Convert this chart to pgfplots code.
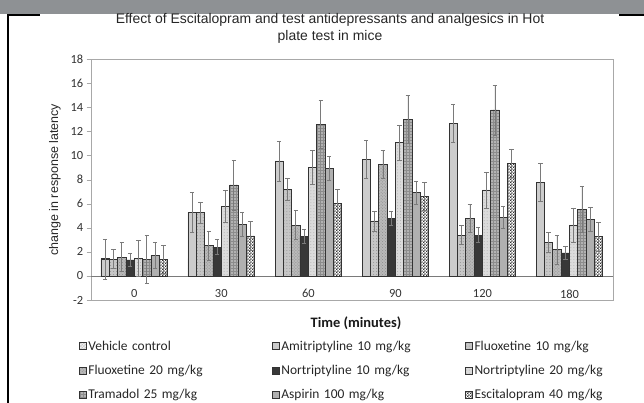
\documentclass[border=0pt]{standalone}
\usepackage{pgfplots}
\pgfplotsset{compat=1.18}
\usepackage{fontspec}
\setmainfont{Liberation Sans}
\newfontfamily\calibri{Carlito}
\usetikzlibrary{patterns}

\definecolor{banner}{HTML}{8E9194}
\definecolor{frame}{HTML}{A8A8A8}
\definecolor{ebar}{HTML}{7A7A7A}

% fine black/white checks for the escitalopram bars
\pgfdeclarepatternformonly{smallcheck}{\pgfpointorigin}{\pgfpoint{3.2bp}{3.2bp}}{\pgfpoint{3.2bp}{3.2bp}}{
  \pgfpathrectangle{\pgfpointorigin}{\pgfpoint{1.6bp}{1.6bp}}
  \pgfpathrectangle{\pgfpoint{1.6bp}{1.6bp}}{\pgfpoint{1.6bp}{1.6bp}}
  \pgfusepath{fill}}

\pgfplotsset{
  drugbar/.style={draw=black!80, line width=0.7bp},
}

\begin{document}
\begin{tikzpicture}
\path[use as bounding box] (0bp,0bp) rectangle (644bp,403bp);
\fill[banner] (0bp,388.5bp) rectangle (644bp,403bp);
\draw[black, line width=1.3bp] (8bp,0bp) -- (8bp,388bp) -- (40bp,388bp);
\draw[black, line width=1.3bp] (619bp,388bp) -- (644bp,388bp);

\node[align=center, font=\fontsize{14}{17}\selectfont, text=black!85] at (330bp,374.5bp)
  {Effect of Escitalopram and test antidepressants and analgesics in Hot\\plate test in mice};

\begin{axis}[
    at={(90.7bp,103bp)}, anchor=south west,
    scale only axis,
    width=522.3bp, height=240.7bp,
    ybar=0pt, bar width=8.33bp,
    xmin=-0.5, xmax=5.5,
    ymin=-2, ymax=18,
    xtick={0,1,2,3,4,5},
    xticklabels={0,30,60,90,120,180},
    ytick={-2,0,2,4,6,8,10,12,14,16,18},
    ytick pos=left,
    tick align=outside,
    major tick length=4bp,
    xtick style={draw=none},
    ytick style={frame},
    axis line style={frame},
    tick label style={font=\calibri\fontsize{12.5}{13}\selectfont, text=black!80},
    /pgf/number format/assume math mode=true,
    xticklabel style={yshift=18bp},
    extra y ticks={0},
    extra y tick labels={},
    extra y tick style={grid=major, major grid style={ebar, line width=0.8bp}},
    ylabel={change in response latency},
    ylabel style={at={(axis description cs:-0.0684,0.5)}, anchor=center, font=\fontsize{12.5}{13}\selectfont, text=black!85},
    xlabel={Time (minutes)},
    xlabel style={at={(axis description cs:0.508,-0.0956)}, anchor=center, font=\calibri\bfseries\fontsize{14.5}{15}\selectfont, text=black!90},
    error bars/y dir=both,
    error bars/y explicit,
    error bars/error bar style={ebar, line width=0.7bp},
    error bars/error mark options={rotate=90, mark size=2.2bp, ebar, line width=0.7bp},
    legend columns=3,
    legend cell align=left,
    legend style={draw=none, fill=none,
      at={(axis description cs:-0.029,-0.152)}, anchor=north west,
      font=\calibri\fontsize{13.5}{14}\selectfont,
      row sep=9.5bp,
      nodes={text width=182bp, align=left, inner xsep=1.5bp, text=black!85}},
    legend image code/.code={\draw[#1, draw=black!80, line width=0.6bp] (0bp,-3.5bp) rectangle (7.5bp,3.5bp);},
]
% Vehicle control
\addplot[drugbar, fill=gray!12, postaction={pattern=crosshatch, pattern color=gray!45}, forget plot]
  coordinates {(0,1.42) (1,1.44) (2,1.47) (3,1.52) (4,1.74) (5,1.74)};
\addlegendimage{fill=gray!12, postaction={pattern=crosshatch, pattern color=gray!45}}
\addlegendentry{Vehicle control}
% Amitriptyline 10
\addplot[drugbar, fill=gray!40] coordinates {
  (0,1.40) +- (0,1.65) (1,5.28) +- (0,1.66) (2,9.55) +- (0,1.66)
  (3,9.69) +- (0,1.60) (4,12.68) +- (0,1.58) (5,7.78) +- (0,1.58)};
\addlegendentry{Amitriptyline 10 mg/kg}
% Fluoxetine 10
\addplot[drugbar, fill=gray!45, postaction={pattern=dots, pattern color=gray!85}] coordinates {
  (0,1.40) +- (0,0.80) (1,5.26) +- (0,0.89) (2,7.20) +- (0,0.88)
  (3,4.57) +- (0,0.83) (4,3.40) +- (0,0.80) (5,2.80) +- (0,0.85)};
\addlegendentry{Fluoxetine 10 mg/kg}
% Fluoxetine 20
\addplot[drugbar, fill=gray!55, postaction={pattern=crosshatch dots, pattern color=gray!90}] coordinates {
  (0,1.55) +- (0,1.20) (1,2.50) +- (0,1.17) (2,4.21) +- (0,1.20)
  (3,9.30) +- (0,1.16) (4,4.79) +- (0,1.16) (5,2.19) +- (0,1.19)};
\addlegendentry{Fluoxetine 20 mg/kg}
% Nortriptyline 10
\addplot[drugbar, fill=black!78] coordinates {
  (0,1.33) +- (0,0.57) (1,2.40) +- (0,0.62) (2,3.30) +- (0,0.58)
  (3,4.79) +- (0,0.60) (4,3.40) +- (0,0.64) (5,1.91) +- (0,0.53)};
\addlegendentry{Nortriptyline 10 mg/kg}
% Nortriptyline 20
\addplot[drugbar, fill=gray!28, postaction={pattern=dots, pattern color=gray!60}] coordinates {
  (0,1.45) +- (0,1.50) (1,5.76) +- (0,1.33) (2,9.00) +- (0,1.40)
  (3,11.07) +- (0,1.45) (4,7.14) +- (0,1.50) (5,4.24) +- (0,1.41)};
\addlegendentry{Nortriptyline 20 mg/kg}
% Tramadol 25
\addplot[drugbar, fill=gray!60, postaction={pattern=grid, pattern color=gray!90}] coordinates {
  (0,1.40) +- (0,2.00) (1,7.56) +- (0,2.07) (2,12.60) +- (0,2.00)
  (3,13.00) +- (0,2.00) (4,13.79) +- (0,2.07) (5,5.54) +- (0,1.93)};
\addlegendentry{Tramadol 25 mg/kg}
% Aspirin 100
\addplot[drugbar, fill=gray!62] coordinates {
  (0,1.70) +- (0,1.05) (1,4.29) +- (0,1.03) (2,8.94) +- (0,0.97)
  (3,6.92) +- (0,0.97) (4,4.87) +- (0,0.94) (5,4.70) +- (0,1.00)};
\addlegendentry{Aspirin 100 mg/kg}
% Escitalopram 40
\addplot[drugbar, fill=white, postaction={pattern=smallcheck, pattern color=black!80}] coordinates {
  (0,1.40) +- (0,1.15) (1,3.32) +- (0,1.19) (2,6.00) +- (0,1.17)
  (3,6.62) +- (0,1.16) (4,9.36) +- (0,1.19) (5,3.27) +- (0,1.20)};
\addlegendentry{Escitalopram 40 mg/kg}
\end{axis}
\end{tikzpicture}
\end{document}
